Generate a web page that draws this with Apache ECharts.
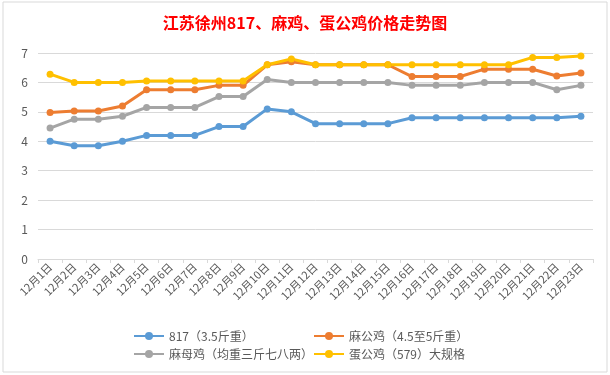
<!DOCTYPE html>
<html>
<head>
<meta charset="utf-8">
<script src="https://cdn.jsdelivr.net/npm/echarts@6/dist/echarts.min.js"></script>
<style>
  html, body { margin: 0; padding: 0; background: #fff; }
  #chart { width: 610px; height: 375px; }
</style>
</head>
<body>
<div id="chart"></div>
<script>
// 日期
const days = ['12月1日', '12月2日', '12月3日', '12月4日', '12月5日', '12月6日', '12月7日', '12月8日',
  '12月9日', '12月10日', '12月11日', '12月12日', '12月13日', '12月14日', '12月15日', '12月16日',
  '12月17日', '12月18日', '12月19日', '12月20日', '12月21日', '12月22日', '12月23日'];

const names = ['817（3.5斤重）', '麻公鸡（4.5至5斤重）', '麻母鸡（均重三斤七八两）', '蛋公鸡（579）大规格'];

const v817 = [4.0, 3.85, 3.85, 4.0, 4.2, 4.2, 4.2, 4.5, 4.5, 5.1, 5.0, 4.6,
  4.6, 4.6, 4.6, 4.8, 4.8, 4.8, 4.8, 4.8, 4.8, 4.8, 4.85];
const maGong = [4.98, 5.03, 5.03, 5.2, 5.75, 5.75, 5.75, 5.9, 5.9, 6.6, 6.7, 6.6,
  6.6, 6.6, 6.6, 6.2, 6.2, 6.2, 6.45, 6.45, 6.45, 6.22, 6.32];
const maMu = [4.45, 4.75, 4.75, 4.85, 5.15, 5.15, 5.15, 5.52, 5.52, 6.1, 6.0, 6.0,
  6.0, 6.0, 6.0, 5.9, 5.9, 5.9, 6.0, 6.0, 6.0, 5.75, 5.9];
const danGong = [6.28, 6.0, 6.0, 6.0, 6.05, 6.05, 6.05, 6.05, 6.05, 6.6, 6.8, 6.6,
  6.6, 6.6, 6.6, 6.6, 6.6, 6.6, 6.6, 6.6, 6.85, 6.85, 6.9];

const colors = ['#5B9BD5', '#ED7D31', '#A5A5A5', '#FFC000'];
const font = '"Noto Sans CJK SC", "Noto Sans", sans-serif';

function line(name, data, color) {
  return {
    name: name,
    type: 'line',
    data: data,
    symbol: 'circle',
    symbolSize: 7,
    lineStyle: { width: 3, color: color },
    itemStyle: { color: color },
    emphasis: { disabled: true }
  };
}

const chart = echarts.init(document.getElementById('chart'));
chart.setOption({
  animation: false,
  textStyle: { fontFamily: font },
  title: {
    text: '江苏徐州817、麻鸡、蛋公鸡价格走势图',
    left: 'center',
    top: 10,
    textStyle: { color: '#FF0000', fontSize: 16, fontWeight: 'bold', fontFamily: font }
  },
  graphic: [{
    type: 'rect',
    shape: { x: 3, y: 2, width: 604, height: 370 },
    style: { fill: 'none', stroke: '#d9d9d9', lineWidth: 1 },
    silent: true
  }],
  legend: [{
    data: [names[0], names[2]],
    orient: 'vertical',
    left: 128,
    top: 325,
    itemWidth: 30,
    itemHeight: 10,
    itemGap: 6,
    textStyle: { color: '#595959', fontSize: 12, fontFamily: font }
  }, {
    data: [names[1], names[3]],
    orient: 'vertical',
    left: 308,
    top: 325,
    itemWidth: 30,
    itemHeight: 10,
    itemGap: 6,
    textStyle: { color: '#595959', fontSize: 12, fontFamily: font }
  }],
  grid: { left: 38, right: 17, top: 53, bottom: 116 },
  xAxis: {
    type: 'category',
    data: days,
    boundaryGap: true,
    axisLine: { lineStyle: { color: '#d9d9d9' } },
    axisTick: { show: true, length: 4, lineStyle: { color: '#d9d9d9' } },
    axisLabel: { interval: 0, rotate: 45, color: '#595959', fontSize: 11, margin: 6 }
  },
  yAxis: {
    type: 'value',
    min: 0,
    max: 7,
    interval: 1,
    axisLine: { show: false },
    axisTick: { show: false },
    splitLine: { lineStyle: { color: '#d9d9d9' } },
    axisLabel: { color: '#595959', fontSize: 12, margin: 10 }
  },
  series: [
    line(names[0], v817, colors[0]),
    line(names[1], maGong, colors[1]),
    line(names[2], maMu, colors[2]),
    line(names[3], danGong, colors[3])
  ]
});
</script>
</body>
</html>
